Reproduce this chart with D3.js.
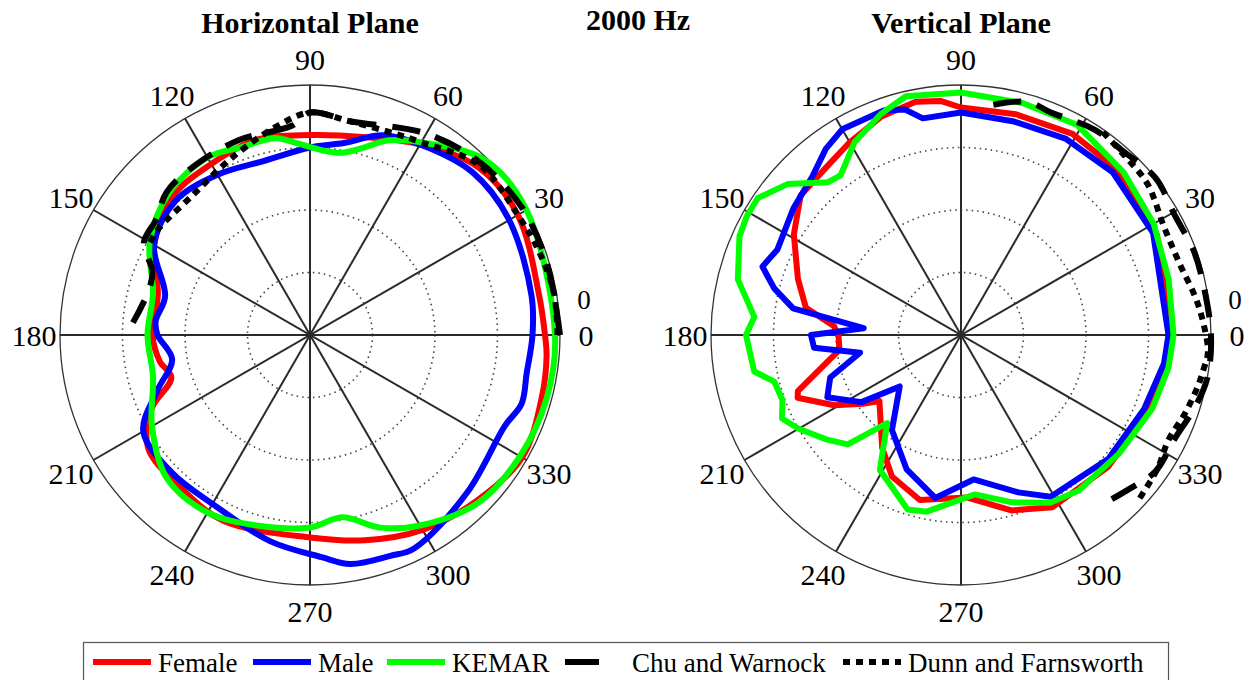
<!DOCTYPE html>
<html lang="en">
<head>
  <meta charset="UTF-8" />
  <title>2000 Hz directivity</title>
  <script src="https://d3js.org/d3.v7.min.js"></script>
  <style>
    body { margin: 0; padding: 0; background: #fff; }
    svg { display: block; font-family: "Liberation Serif", "Times New Roman", serif; }
    .title { font-size: 30px; font-weight: bold; fill: #000; }
    .angle-label { font-size: 30px; fill: #000; }
    .radial-label { font-size: 27px; fill: #000; }
    .legend-text { font-size: 27px; fill: #000; }
  </style>
</head>
<body>
  <svg width="1252" height="680"></svg>

  <script>
    // levels in dB, relative; [angle in degrees, level]
    const hFemale = [[0,-1.2],[10,-1.4],[30,-0.8],[45,-1],[60,-2.4],[75,-3.6],[90,-4],[105,-3.8],[120,-4.2],[135,-4.4],[150,-5.6],[165,-7.4],[180,-7.4],[190,-7.8],[197,-8.4],[205,-6],[215,-4.2],[230,-4],[245,-3.6],[270,-3.8],[285,-3],[300,-2],[315,-1.2],[330,-0.4],[345,-0.8],[355,-1]];
    const hMale = [[0,-2.2],[10,-2],[30,-1.6],[45,-1.6],[60,-2.4],[70,-3],[80,-4.4],[90,-5],[105,-5.6],[120,-5.2],[135,-4.8],[150,-5.6],[165,-8],[175,-7.6],[180,-7.8],[190,-8.8],[200,-7],[210,-4.6],[225,-4.4],[240,-4.4],[259,-3.2],[273,-2.2],[280,-1.4],[290,-1.2],[296,-1],[315,-2.2],[335,-2.8],[342,-2.2],[350,-2.4]];
    const hKemar = [[0,-0.4],[30,0],[45,-0.2],[60,-2.2],[68,-3.2],[74,-4.4],[80,-5.2],[86,-5.2],[96,-4.4],[100,-4],[110,-4],[120,-3.6],[135,-4],[150,-5.2],[165,-7],[180,-7],[195,-7],[210,-5.4],[225,-3.8],[240,-3.6],[255,-4.2],[270,-4.6],[280,-5.2],[290,-3.6],[300,-2.4],[315,-1],[330,-0.6],[345,-0.4]];
    const hChu = [[0,0],[16,-0.2],[30,-0.2],[45,-0.6],[60,-1.4],[79,-2.6],[90,-2.2],[95,-3.2],[110,-3.4],[124,-3.6],[135,-3.8],[143,-4.6],[151,-4.8],[158,-6.4],[165,-6.6],[176,-5.8]];
    const hDunn = [[0,-0.2],[10,-0.2],[20,-0.5],[30,-0.8],[45,-0.8],[60,-2.2],[70,-2.6],[80,-2.6],[90,-2.2],[100,-3.2],[115,-4.6],[130,-5.4],[145,-5.2],[150,-5.2]];

    const vFemale = [[0,-3.2],[27,-2.4],[47,-1.8],[61,-1.6],[76,-1.8],[90,-1.8],[95,-1.2],[101,-1],[110,-1.4],[120,-2.2],[129,-2.8],[139,-3],[149,-4.4],[161,-6.2],[170,-7.4],[176,-9.8],[180,-10.2],[187,-10.2],[199,-6.2],[201,-6],[209,-8.4],[215,-10.4],[219,-11.6],[235,-9],[244,-7.4],[256,-6.4],[272,-7],[286,-5.4],[298,-4.4],[318,-4.2],[337,-3.8],[351,-3.4]];
    const vMale = [[0,-3.4],[28,-2.6],[47,-2.2],[62,-2.2],[76,-2.4],[90,-2.2],[100,-2.4],[104,-1.4],[109,-1],[120,-1],[126,-1.6],[133,-2.6],[143,-3.2],[155,-3.8],[161,-3.2],[166,-4.6],[171,-6.4],[176,-12.2],[180,-8],[185,-8.2],[190,-11.8],[198,-9],[205,-8.2],[214,-10.4],[220,-13.6],[234,-10.6],[248,-8.4],[261,-6.8],[275,-8.4],[290,-6.6],[299,-5.2],[320,-4.6],[338,-4.2],[352,-3.6]];
    const vKemar = [[0,-3],[15,-2.8],[30,-2.2],[45,-1.6],[61,-0.8],[75,-0.8],[90,-0.6],[103,-0.4],[110,-1.2],[119,-2.4],[127,-4],[131,-3.8],[139,-1.6],[146,-0.4],[151,-0.4],[156,-0.6],[166,-1.6],[175,-3.4],[180,-2.8],[190,-3.2],[194,-4.6],[200,-4.8],[205,-4.2],[210,-5],[218,-6.4],[224,-7.4],[230,-10.8],[239,-7.4],[253,-5.4],[259,-5.6],[275,-7.2],[287,-6],[298,-4.8],[307,-4.4],[323,-4.2],[339,-3.6],[351,-3.2]];
    const vChu = [[82,-1.4],[74,-0.6],[68,-0.8],[57,-0.4],[49,-0.4],[39,0],[29,-0.4],[20,-0.2],[13,-0.2],[0,0],[-10,0],[-17,-0.4],[-26,-1],[-35,-1],[-43,-1.8],[-51,-2.4]];
    const vDunn = [[55,-0.2],[47,-0.6],[39,-0.8],[28,-1.6],[18,-1.6],[9,-1],[3,-0.6],[-4,-0.2],[-8,-0.4],[-12,-0.6],[-19,-1],[-27,-1.4],[-34,-1],[-43,-0.6]];

    const angleTicks = [0, 30, 60, 90, 120, 150, 180, 210, 240, 270, 300, 330];
    const ringTicks = [-15, -10, -5];
    const legendNames = ["Female", "Male", "KEMAR", "Chu and Warnock", "Dunn and Farnsworth"];

    const styles = [
      { color: "#ff0000", width: 6, dash: null },
      { color: "#0000ff", width: 6, dash: null },
      { color: "#00ff00", width: 6, dash: null },
      { color: "#000000", width: 6, dash: "28 16" },
      { color: "#000000", width: 6, dash: "7 6" }
    ];

    const svg = d3.select("svg");
    const R = 250;
    const r = d3.scaleLinear().domain([-20, 0]).range([0, R]);
    // math angle (ccw from east) -> d3 radial angle (cw from north)
    const ang = d3.scaleLinear().domain([0, 360]).range([Math.PI / 2, Math.PI / 2 - 2 * Math.PI]);

    function drawPolar(cx, cy, title, series, smooth) {
      const g = svg.append("g").attr("transform", `translate(${cx},${cy})`);

      ringTicks.forEach(t => {
        g.append("circle").attr("r", r(t))
          .attr("fill", "none").attr("stroke", "#444")
          .attr("stroke-width", 1.6).attr("stroke-dasharray", "1.5 4");
      });
      g.append("circle").attr("r", r(0))
        .attr("fill", "none").attr("stroke", "#333").attr("stroke-width", 1.3);

      angleTicks.filter(a => a < 180).forEach(a => {
        const t = ang(a);
        g.append("line")
          .attr("x1", R * Math.sin(t)).attr("y1", -R * Math.cos(t))
          .attr("x2", -R * Math.sin(t)).attr("y2", R * Math.cos(t))
          .attr("stroke", "#2a2a2a").attr("stroke-width", 2);
      });

      angleTicks.forEach(a => {
        const t = ang(a);
        g.append("text").attr("class", "angle-label")
          .attr("x", (R + 26) * Math.sin(t))
          .attr("y", -(R + 26) * Math.cos(t))
          .attr("text-anchor", "middle")
          .attr("dominant-baseline", "central")
          .text(a);
      });
      // radial tick label for the outer ring
      const tr = ang(7);
      g.append("text").attr("class", "radial-label")
        .attr("x", (r(0) + 26) * Math.sin(tr))
        .attr("y", -(r(0) + 26) * Math.cos(tr) - 1)
        .attr("text-anchor", "middle")
        .attr("dominant-baseline", "central")
        .text("0");

      series.forEach((s, i) => {
        const closed = i < 3;
        const curve = smooth
          ? (closed ? d3.curveCatmullRomClosed.alpha(0.5) : d3.curveCatmullRom.alpha(0.5))
          : (closed ? d3.curveLinearClosed : d3.curveCatmullRom.alpha(0.5));
        const line = d3.lineRadial()
          .angle(d => ang(d[0]))
          .radius(d => r(d[1]))
          .curve(curve);
        g.append("path")
          .datum(s)
          .attr("d", line)
          .attr("fill", "none")
          .attr("stroke", styles[i].color)
          .attr("stroke-width", styles[i].width)
          .attr("stroke-dasharray", styles[i].dash)
          .attr("stroke-linejoin", "round");
      });

      svg.append("text").attr("class", "title")
        .attr("x", cx).attr("y", 33)
        .attr("text-anchor", "middle")
        .text(title);
    }

    drawPolar(310, 335, "Horizontal Plane", [hFemale, hMale, hKemar, hChu, hDunn], true);
    drawPolar(961, 335, "Vertical Plane", [vFemale, vMale, vKemar, vChu, vDunn], false);

    svg.append("text").attr("class", "title")
      .attr("x", 638).attr("y", 30)
      .attr("text-anchor", "middle")
      .text("2000 Hz");

    // legend
    const lg = svg.append("g");
    lg.append("rect")
      .attr("x", 83.5).attr("y", 642.5)
      .attr("width", 1085).attr("height", 60)
      .attr("fill", "#fff").attr("stroke", "#555").attr("stroke-width", 1.2);

    const legendX = [93, 253, 387, 565, 843];
    const legendDash = [null, null, null, "34 60", "7 6"];
    legendNames.forEach((name, i) => {
      lg.append("line")
        .attr("x1", legendX[i]).attr("x2", legendX[i] + 58)
        .attr("y1", 662).attr("y2", 662)
        .attr("stroke", styles[i].color)
        .attr("stroke-width", styles[i].width)
        .attr("stroke-dasharray", legendDash[i]);
      lg.append("text").attr("class", "legend-text")
        .attr("x", i === 3 ? 632 : legendX[i] + 65)
        .attr("y", 672)
        .text(name);
    });
  </script>
</body>
</html>
